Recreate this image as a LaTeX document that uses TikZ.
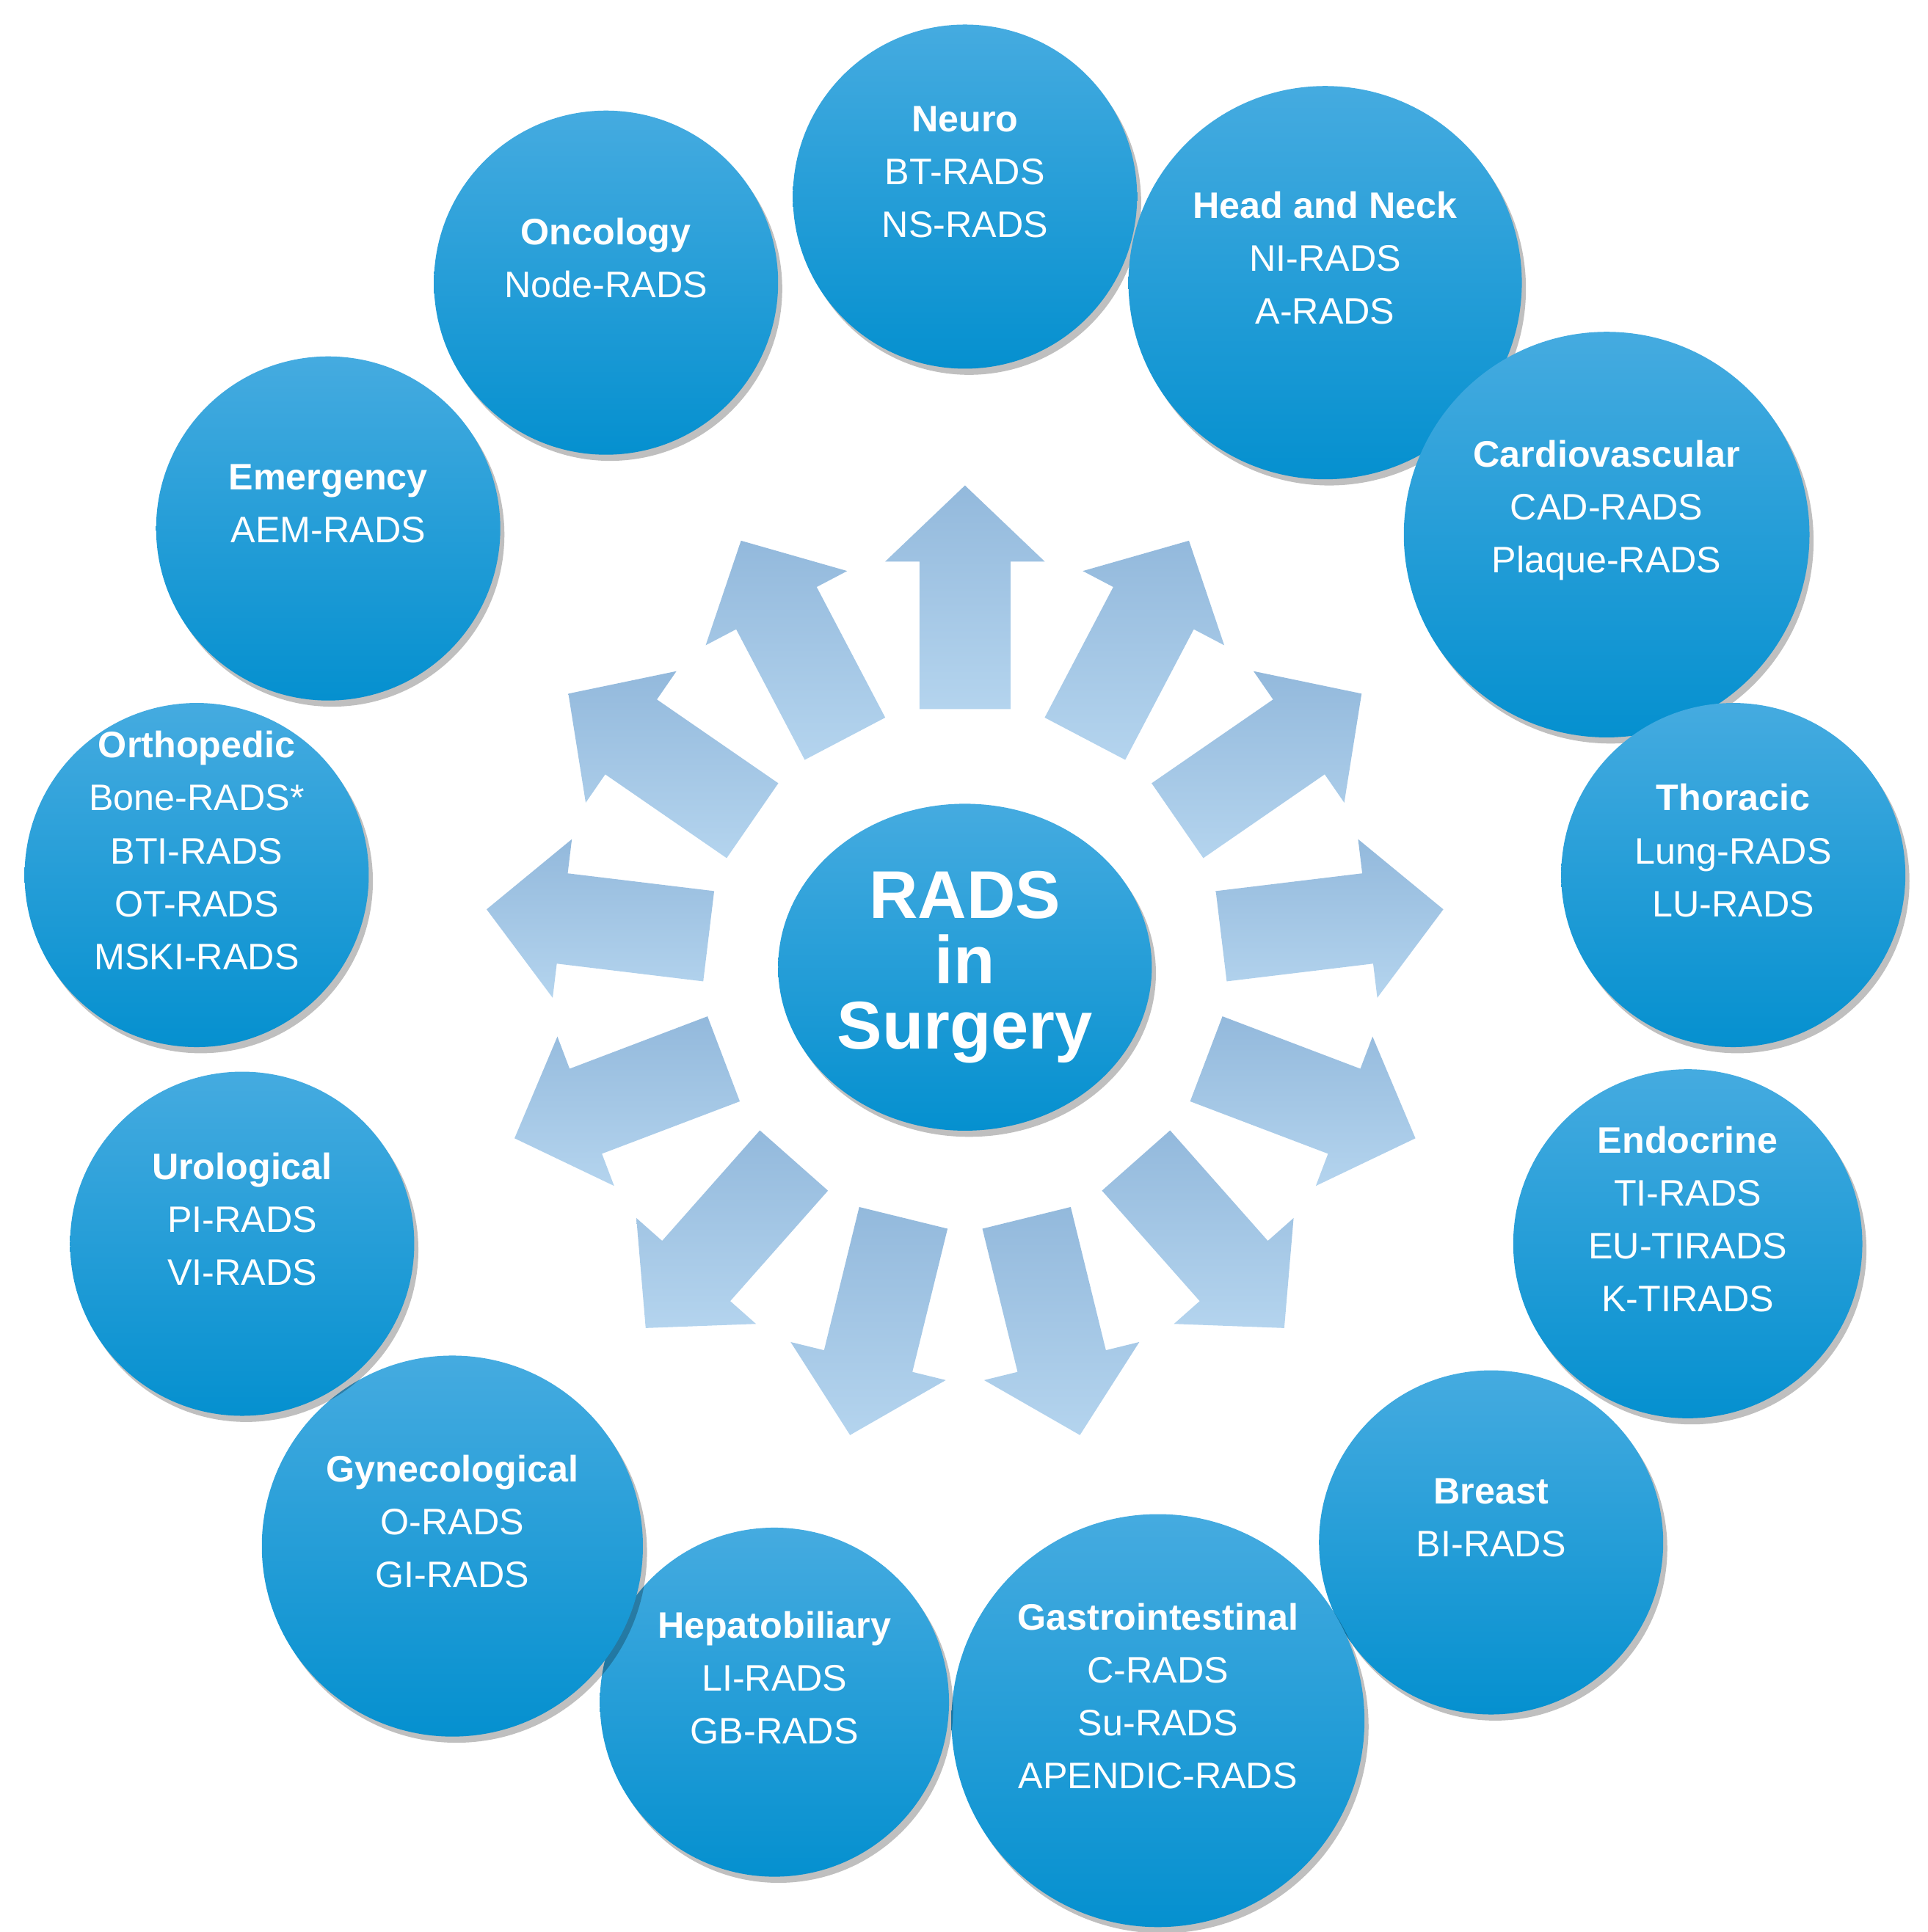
\documentclass[tikz,border=0pt]{standalone}
\usepackage{fontspec}
\setmainfont{Liberation Sans}
\usetikzlibrary{shapes.geometric,shadows}
\definecolor{ctop}{HTML}{45ABE0}
\definecolor{cbot}{HTML}{0590CF}
\definecolor{atip}{HTML}{B4D4EE}
\definecolor{abase}{HTML}{93B9DC}
\tikzset{
 bub/.style={circle,minimum size=#1,inner sep=0pt,top color=ctop,bottom color=cbot,draw=none,
   drop shadow={shadow xshift=2pt,shadow yshift=-3pt,opacity=0.25,fill=black}},
 txt/.style={text=white,align=center,font=\fontsize{18}{25.8}\selectfont},
}
\newcommand{\radsarrow}[1]{%
 \begin{scope}[shift={(785,785)},rotate=#1]
  \shade[left color=abase,right color=atip,shading angle=0]
   (210,-37) -- (330,-37) -- (330,-65) -- (392,0) -- (330,65) -- (330,37) -- (210,37) -- cycle;
 \end{scope}}
\begin{document}
\begin{tikzpicture}[x=0.6pt,y=0.6pt]
\useasboundingbox (0,0) rectangle (1568,1572);
\foreach \a in {90,62.3,34.6,6.9,-20.8,-48.5,-76.2,-103.8,-131.5,-159.2,173.1,145.4,117.7}{\radsarrow{\a}}
\node[ellipse,minimum width=182.4pt,minimum height=159.6pt,inner sep=0pt,top color=ctop,bottom color=cbot,
  drop shadow={shadow xshift=2pt,shadow yshift=-3pt,opacity=0.25,fill=black}] (c) at (785,785) {};
\node[text=white,align=center,font=\bfseries\fontsize{33}{32}\selectfont] at (c.center) {RADS\\in\\Surgery};
\foreach \n/\x/\y/\r/\t in {
 neuro/785/1412/140/{\textbf{Neuro}\\BT-RADS\\NS-RADS},
 hn/1078/1342/160/{\textbf{Head and Neck}\\NI-RADS\\A-RADS},
 cardio/1307/1137/165/{\textbf{Cardiovascular}\\CAD-RADS\\Plaque-RADS},
 thor/1410/860/140/{\textbf{Thoracic}\\Lung-RADS\\LU-RADS},
 endo/1373/560/142/{\textbf{Endocrine}\\TI-RADS\\EU-TIRADS\\K-TIRADS},
 breast/1213/317/140/{\textbf{Breast}\\BI-RADS},
 gi/942/172/168/{\textbf{Gastrointestinal}\\C-RADS\\Su-RADS\\APENDIC-RADS},
 hep/630/187/142/{\textbf{Hepatobiliary}\\LI-RADS\\GB-RADS},
 gyn/368/314/155/{\textbf{Gynecological}\\O-RADS\\GI-RADS},
 uro/197/560/140/{\textbf{Urological}\\PI-RADS\\VI-RADS},
 ortho/160/860/140/{\textbf{Orthopedic}\\Bone-RADS*\\BTI-RADS\\OT-RADS\\MSKI-RADS},
 emerg/267/1142/140/{\textbf{Emergency}\\AEM-RADS},
 onco/493/1342/140/{\textbf{Oncology}\\Node-RADS}}{
 \node[bub=1.2pt*\r] (\n) at (\x,\y) {};
 \node[txt] at ([yshift=12pt]\n.center) {\t};
}
\end{tikzpicture}
\end{document}
